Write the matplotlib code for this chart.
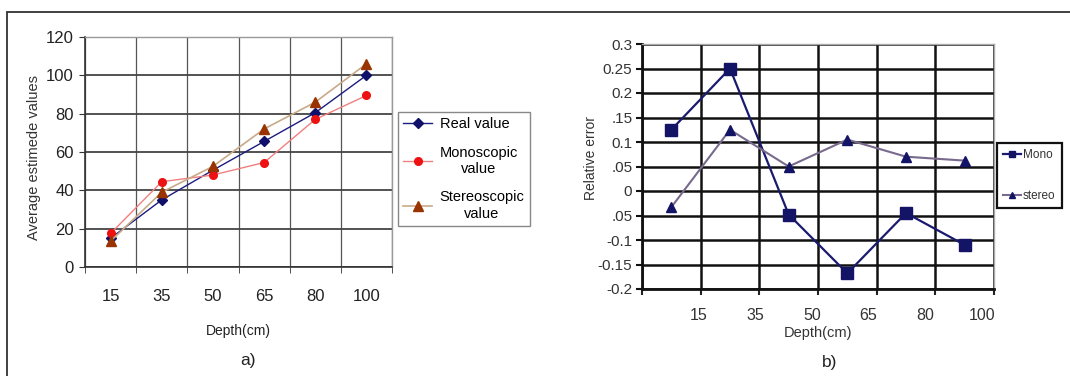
import matplotlib
matplotlib.use("Agg")
import matplotlib.pyplot as plt
from matplotlib.patches import Rectangle
import numpy as np

plt.rcParams['font.family'] = ['Liberation Sans', 'DejaVu Sans']

# ---------------- data ----------------
depth_labels = ["15", "35", "50", "65", "80", "100"]
real_value = [15, 35, 50.5, 65.5, 80.5, 100]
mono_value = [17.5, 44.5, 48, 54.5, 77, 89.5]
stereo_value = [13.5, 39, 52.5, 72, 86, 106]

mono_error = [0.125, 0.25, -0.048, -0.168, -0.045, -0.11]
stereo_error = [-0.033, 0.125, 0.05, 0.105, 0.07, 0.062]
b_ytick_values = [0.3, 0.25, 0.2, 0.15, 0.1, 0.05, 0, -0.05, -0.1, -0.15, -0.2]
b_ytick_labels = ["0.3", "0.25", "0.2", ".15", "0.1", ".05", "0", ".05", "-0.1", "-0.15", "-0.2"]

W, H = 1070, 376
fig = plt.figure(figsize=(W / 100, H / 100), dpi=100)

def px_axes(l, t, r, b):
    return fig.add_axes([l / W, 1 - b / H, (r - l) / W, (b - t) / H])

# outer border
fig.patches.append(Rectangle((7 / W, -0.05), 1.2, 1 - 12 / H + 0.05, transform=fig.transFigure,
                             fill=False, edgecolor='#333333', linewidth=1.3))

tickfam = ['Liberation Sans Narrow', 'Liberation Sans']

# ---------------- panel a ----------------
axa = px_axes(85, 37, 392, 267)
x = np.arange(len(depth_labels))
axa.plot(x, real_value, color='#1c1c80', lw=1.0, marker='D', ms=5, mfc='#10106a', mec='#10106a',
         label='Real value', zorder=4)
axa.plot(x, mono_value, color='#f08080', lw=1.0, marker='o', ms=5.5, mfc='#ee1111', mec='#ee1111',
         label='Monoscopic\nvalue', zorder=4)
axa.plot(x, stereo_value, color='#c8aa88', lw=1.2, marker='^', ms=6.5, mfc='#993300', mec='#993300',
         label='Stereoscopic\nvalue', zorder=4)
axa.set_xlim(-0.5, len(depth_labels) - 0.5)
axa.set_ylim(0, 120)
axa.set_yticks(np.arange(0, 121, 20))
axa.set_xticks(x)
axa.set_xticklabels(depth_labels, fontdict=dict(family=tickfam, size=12), color='#222222')
for lab in axa.get_yticklabels():
    lab.set_fontfamily(tickfam)
    lab.set_fontsize(12)
    lab.set_color('#222222')
axa.set_xticks(np.arange(-0.5, len(depth_labels)), minor=True)
axa.tick_params(axis='x', which='major', length=0, pad=16)
axa.tick_params(axis='x', which='minor', length=4, color='#333333', direction='out')
axa.tick_params(axis='y', length=4, color='#333333', pad=4)
axa.grid(True, axis='y', which='major', color='#444444', lw=1.3)
axa.grid(True, axis='x', which='minor', color='#555555', lw=0.9)
for s in ['top', 'right']:
    axa.spines[s].set_color('#999999')
    axa.spines[s].set_linewidth(1.0)
for s in ['left', 'bottom']:
    axa.spines[s].set_color('#333333')
    axa.spines[s].set_linewidth(1.2)
axa.set_ylabel('Average estimede values', fontsize=10.5, color='#333333')
axa.yaxis.set_label_coords((41 - 85) / 307, (267 - 157) / 230)
axa.set_xlabel('Depth(cm)', fontsize=10, color='#222222', labelpad=14)
lega = axa.legend(loc='upper left', bbox_to_anchor=(398 / W, 1 - 112 / H), bbox_transform=fig.transFigure,
                  fancybox=False, edgecolor='#888888', framealpha=1, fontsize=10.5,
                  handlelength=2.0, borderpad=0.35, labelspacing=1.0, handletextpad=0.5,
                  borderaxespad=0)
lega.get_frame().set_linewidth(1.0)
for t in lega.get_texts():
    t.set_multialignment('center')
fig.text(248 / W, 1 - 361 / H, 'a)', fontsize=12.5, ha='center', va='center', color='#222222')

# ---------------- panel b ----------------
axb = px_axes(642, 44, 994, 289)
axb.plot(x, mono_error, color='#1a1a6e', lw=1.6, marker='s', ms=8, mfc='#141466', mec='#141466',
         label='Mono', zorder=4)
axb.plot(x, stereo_error, color='#776a8c', lw=1.5, marker='^', ms=7, mfc='#141466', mec='#141466',
         label='stereo', zorder=4)
axb.set_xlim(-0.5, len(depth_labels) - 0.5)
axb.set_ylim(-0.2, 0.3)
axb.set_yticks(b_ytick_values)
axb.set_yticklabels(b_ytick_labels, fontdict=dict(family=tickfam, size=11), color='#333333')
bpos = np.arange(len(depth_labels)) + 0.5 - np.arange(1, len(depth_labels) + 1) * 0.035
axb.set_xticks(bpos)
axb.set_xticklabels(depth_labels, fontdict=dict(family=tickfam, size=11.5), color='#333333')
axb.tick_params(axis='x', which='major', length=0, pad=14)
axb.set_xticks(np.arange(-0.5, len(depth_labels)), minor=True)
axb.tick_params(axis='x', which='minor', length=4, width=1.5, color='#222222', direction='out')
axb.tick_params(axis='y', length=4, width=1.5, color='#111111', pad=3)
axb.grid(True, axis='y', which='major', color='#111111', lw=1.8)
axb.grid(True, axis='x', which='minor', color='#111111', lw=1.8)
for s in ['top', 'right']:
    axb.spines[s].set_color('#aaaaaa')
    axb.spines[s].set_linewidth(1.0)
for s in ['left', 'bottom']:
    axb.spines[s].set_color('#111111')
    axb.spines[s].set_linewidth(2.0)
axb.set_ylabel('Relative error', fontsize=10, color='#333333')
axb.yaxis.set_label_coords((598 - 642) / 352, (289 - 158) / 245)
axb.set_xlabel('Depth(cm)', fontsize=10.5, color='#333333', labelpad=2)
legb = axb.legend(loc='upper left', bbox_to_anchor=(997 / W, 1 - 143 / H), bbox_transform=fig.transFigure,
                  fancybox=False, edgecolor='#111111', framealpha=1,
                  prop=dict(family=tickfam, size=8.5),
                  handlelength=1.5, borderpad=0.5, labelspacing=2.5, handletextpad=0.2,
                  borderaxespad=0, markerscale=0.6)
legb.get_frame().set_linewidth(1.6)
for t in legb.get_texts():
    t.set_color('#333333')
fig.text(830 / W, 1 - 363 / H, 'b)', fontsize=12.5, ha='center', va='center', color='#222222')

fig.savefig('out.png', dpi=100)
